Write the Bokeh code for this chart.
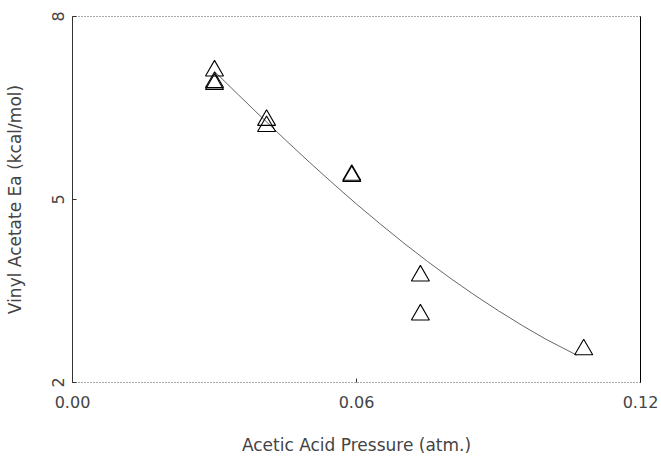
from bokeh.plotting import figure
from bokeh.models import Range1d, FixedTicker, LinearAxis, NumeralTickFormatter
from bokeh.embed import file_html
from bokeh.resources import INLINE

# Measured data (triangles)
pressure = [0.030, 0.030, 0.030, 0.041, 0.041, 0.059, 0.059, 0.0735, 0.0735, 0.108]
ea = [7.11, 6.92, 6.89, 6.30, 6.20, 5.40, 5.38, 3.75, 3.11, 2.54]

# Fitted curve
fit_x = [0.030, 0.035, 0.040, 0.045, 0.050, 0.055, 0.060, 0.065, 0.070, 0.075,
         0.080, 0.085, 0.090, 0.095, 0.100, 0.1065]
fit_y = [7.10, 6.72, 6.345, 5.975, 5.615, 5.265, 4.925, 4.60, 4.285, 3.985,
         3.70, 3.43, 3.175, 2.935, 2.71, 2.45]

x_ticks = [0.0, 0.06, 0.12]
y_ticks = [2, 5, 8]

FONT = "DejaVu Sans"
TXT = "#444444"

p = figure(width=661, height=457, output_backend="svg", toolbar_location=None,
           x_range=Range1d(0, 0.12), y_range=Range1d(2, 8),
           min_border_left=72, min_border_right=21, min_border_top=16,
           min_border_bottom=75)
p.outline_line_color = None
p.xgrid.visible = False
p.ygrid.visible = False
p.background_fill_color = "white"
p.border_fill_color = "white"

# Fitted curve
p.line(fit_x, fit_y, line_color="#666666", line_width=1)

# Data triangles
p.scatter(pressure, ea, marker="triangle", size=18, fill_color=None,
          line_color="black", line_width=1.1)

# Bottom axis
xa = p.xaxis[0]
xa.ticker = FixedTicker(ticks=x_ticks)
xa.formatter = NumeralTickFormatter(format="0.00")
xa.axis_label = "Acetic Acid Pressure (atm.)"
xa.axis_line_dash = "1 2"
xa.axis_line_color = "#555555"
xa.major_tick_in = 4
xa.major_tick_out = 0
xa.major_tick_line_color = "#333333"
xa.minor_tick_line_color = None
xa.major_label_standoff = 13
xa.axis_label_standoff = 24
xa.major_label_text_font = FONT
xa.major_label_text_font_size = "16px"
xa.major_label_text_color = TXT
xa.axis_label_text_font = FONT
xa.axis_label_text_font_size = "17px"
xa.axis_label_text_font_style = "normal"
xa.axis_label_text_color = TXT

# Left axis
ya = p.yaxis[0]
ya.ticker = FixedTicker(ticks=y_ticks)
ya.axis_label = "Vinyl Acetate Ea (kcal/mol)"
ya.axis_line_color = "#333333"
ya.major_tick_in = 4
ya.major_tick_out = 0
ya.major_tick_line_color = "#333333"
ya.minor_tick_line_color = None
ya.major_label_standoff = 9
ya.axis_label_standoff = 24
ya.major_label_orientation = "vertical"
ya.major_label_text_font = FONT
ya.major_label_text_font_size = "16px"
ya.major_label_text_color = TXT
ya.axis_label_text_font = FONT
ya.axis_label_text_font_size = "17px"
ya.axis_label_text_font_style = "normal"
ya.axis_label_text_color = TXT

# Right frame line
ra = LinearAxis(ticker=FixedTicker(ticks=[]), axis_line_color="black",
                major_tick_line_color=None, minor_tick_line_color=None,
                major_label_text_font_size="0px")
p.add_layout(ra, "right")

# Top frame line (dotted)
ta = LinearAxis(ticker=FixedTicker(ticks=[]), axis_line_color="#555555",
                axis_line_dash="1 2",
                major_tick_line_color=None, minor_tick_line_color=None,
                major_label_text_font_size="0px")
p.add_layout(ta, "above")

open("out.html", "w").write(file_html(p, INLINE))
